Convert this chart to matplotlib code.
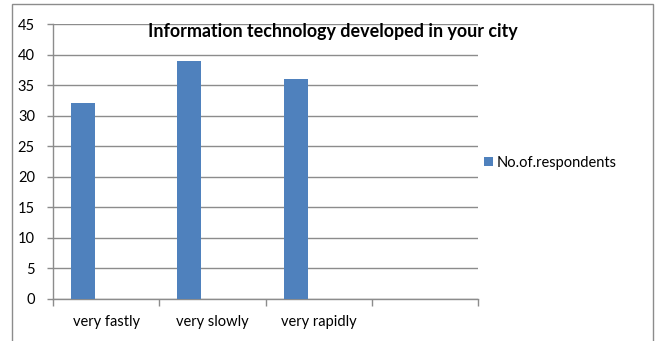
import matplotlib
matplotlib.use("Agg")
import matplotlib.pyplot as plt
from matplotlib.patches import Rectangle

categories = ["very fastly", "very slowly", "very rapidly", ""]
respondents = [32, 39, 36]
series_name = "No.of.respondents"
title = "Information technology developed in your city"
y_ticks = list(range(0, 50, 5))

BAR_COLOR = "#4F81BD"
GRID_COLOR = "#8C8C8C"

plt.rcParams["font.family"] = ["Lato", "DejaVu Sans"]

fig = plt.figure(figsize=(6.59, 3.41), dpi=100)
ax = fig.add_axes([53 / 659, 42.3 / 341, 425 / 659, 274.7 / 341])

# chart frame
fig.patches.append(Rectangle((12 / 659, -0.1), 641 / 659, 1.1 - 4 / 341,
                             transform=fig.transFigure, fill=False,
                             edgecolor="#8C8C8C", linewidth=1.0))

xs = range(len(respondents))
bars = ax.bar([x - 0.217 for x in xs], respondents, width=0.226,
              color=BAR_COLOR, label=series_name, zorder=3)

ax.set_xlim(-0.5, len(categories) - 0.5)
ax.set_ylim(0, 45)
ax.set_yticks(y_ticks)
ax.tick_params(axis="y", length=4, width=1, color=GRID_COLOR, pad=9, labelsize=10.5)
ax.yaxis.grid(True, color=GRID_COLOR, linewidth=1.0, zorder=0)

ax.set_xticks(range(len(categories)))
ax.set_xticklabels(categories)
ax.set_xticks([i - 0.5 for i in range(len(categories) + 1)], minor=True)
ax.tick_params(axis="x", which="major", length=0, pad=12, labelsize=10.5)
ax.tick_params(axis="x", which="minor", length=5, width=1, color=GRID_COLOR)

for side in ["top", "right"]:
    ax.spines[side].set_visible(False)
for side in ["left", "bottom"]:
    ax.spines[side].set_color(GRID_COLOR)
    ax.spines[side].set_linewidth(1.0)

fig.text(333 / 659, 1 - 31 / 341, title, ha="center", va="center",
         fontsize=12.9, fontweight="bold")

fig.legend(handles=[bars], labels=[series_name], loc="center left",
           bbox_to_anchor=(484 / 659, 1 - 163 / 341), frameon=False,
           handlelength=0.6, handleheight=0.6, handletextpad=0.3,
           borderpad=0, borderaxespad=0, fontsize=10.5)

fig.savefig("out.png", dpi=100)
